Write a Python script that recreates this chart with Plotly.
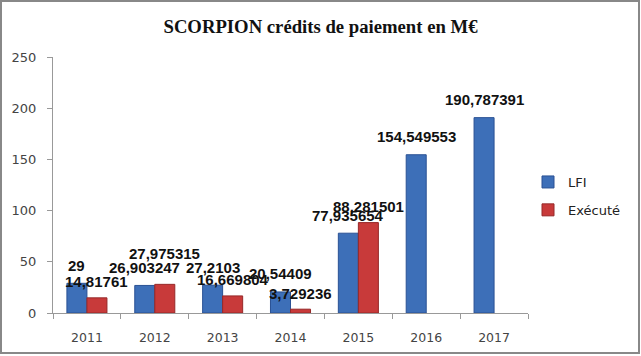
import plotly.graph_objects as go

years = ["2011", "2012", "2013", "2014", "2015", "2016", "2017"]
lfi = [29, 26.903247, 27.2103, 20.54409, 77.935654, 154.549553, 190.787391]
execute = [14.81761, 27.975315, 16.669804, 3.729236, 88.281501, None, None]
y_ticks = [0, 50, 100, 150, 200, 250]

def fr(v):
    s = ("%.6f" % v).rstrip("0").rstrip(".")
    return s.replace(".", ",")

fig = go.Figure()
fig.add_trace(go.Bar(x=years, y=lfi, name="LFI", offsetgroup="a", legendgroup="a",
                     marker=dict(color="#3D6FB8", line=dict(color="#2A5194", width=1))))
fig.add_trace(go.Bar(x=years, y=execute, name="Exécuté", offsetgroup="b", legendgroup="b",
                     marker=dict(color="#C83A3A", line=dict(color="#962828", width=1))))

lab_font = dict(family="Liberation Sans", size=15, color="#111")
ann = []
for i, v in enumerate(lfi):
    ann.append(dict(x=i, y=v, text="<b>%s</b>" % fr(v), xshift=-10, yshift=18, showarrow=False,
                    yanchor="middle", font=lab_font))
for i, v in enumerate(execute):
    if v is None:
        continue
    ys = 31 if years[i] == "2012" else 16
    ann.append(dict(x=i, y=v, text="<b>%s</b>" % fr(v), xshift=10, yshift=ys, showarrow=False,
                    yanchor="middle", font=lab_font))

fig.update_layout(
    width=641, height=356,
    margin=dict(l=53, r=113, t=57, b=43),
    paper_bgcolor="white", plot_bgcolor="white",
    title=dict(text="<b>SCORPION crédits de paiement en M€</b>", x=0.5, xanchor="center",
               y=0.925, yanchor="middle",
               font=dict(family="Liberation Serif", size=18.7, color="#111")),
    barmode="group", bargap=0.41, bargroupgap=0,
    showlegend=True,
    legend=dict(x=1.0, y=0.457, xanchor="left", yanchor="middle",
                font=dict(family="DejaVu Sans", size=13, color="#222"),
                traceorder="grouped", tracegroupgap=8, bgcolor="rgba(0,0,0,0)"),
    annotations=ann,
    font=dict(family="DejaVu Sans", size=13, color="#444"),
)
fig.update_yaxes(range=[0, 250], tickvals=y_ticks, showgrid=False, showline=True,
                 linecolor="#999", linewidth=1, ticks="outside", ticklen=5, tickcolor="#999",
                 ticklabelstandoff=8,
                 zeroline=False, tickfont=dict(family="DejaVu Sans", size=13, color="#444"))
fig.update_xaxes(type="category", range=[-0.5, 6.5], showgrid=False, showline=True,
                 linecolor="#999", linewidth=1,
                 ticks="outside", ticklen=5, tickcolor="#999", tickson="boundaries",
                 ticklabelstandoff=13,
                 tickfont=dict(family="DejaVu Sans", size=12.5, color="#444"))
fig.add_shape(type="rect", xref="paper", yref="paper",
              x0=(1 - 53) / 475, x1=(639 - 53) / 475, y0=(313 - 353) / 256, y1=(313 - 1) / 256,
              line=dict(color="#888", width=2), fillcolor="rgba(0,0,0,0)", layer="below")
fig.write_html("out.html", config={"displayModeBar": False},
               post_script="document.body.style.margin='0';document.body.style.overflow='hidden';")
